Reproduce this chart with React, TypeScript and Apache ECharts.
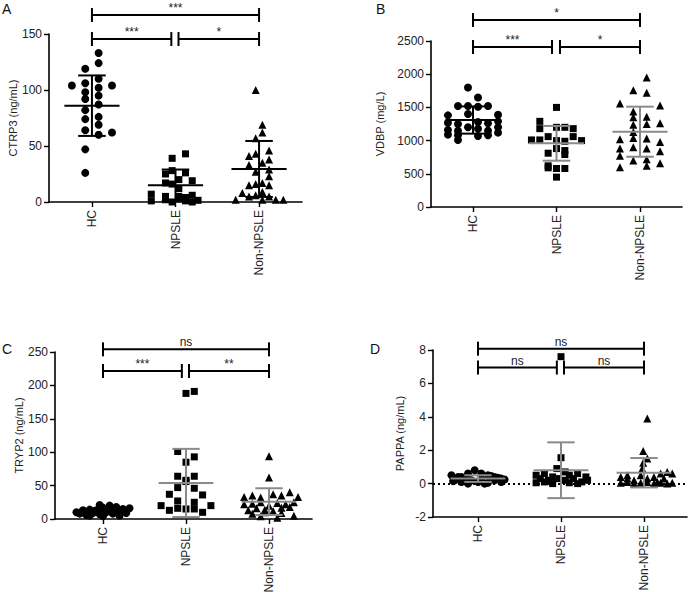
import React, { useEffect, useRef } from 'react';
import * as echarts from 'echarts';

const CATEGORIES = ['HC', 'NPSLE', 'Non-NPSLE'];

// Each point: [horizontal jitter in category units, value]
const A_HC = [[0.08,133],[0.08,124],[-0.08,119],[-0.24,104],[-0.08,106],[0.08,110],[0.24,104],[-0.08,98],[0.08,102],[-0.08,92],[0.08,95],[0.08,87],[-0.08,82],[-0.08,74],[0.08,76],[0.08,69],[-0.08,64],[0.24,62],[0.08,60],[-0.08,47],[-0.08,26]];
const A_NPSLE = [[-0.04,39],[0.12,43],[-0.12,25],[0.12,26],[-0.04,28],[-0.12,17],[0.04,20],[0.2,19],[-0.04,16],[0.04,12],[-0.29,7],[-0.12,5],[0.04,5],[0.12,4],[-0.29,1],[-0.12,2],[-0.04,0],[0.04,3],[0.12,1],[0.2,0],[0.27,1.5],[0.2,6]];
const A_NON = [[-0.04,100],[0.04,69],[0.04,62],[-0.04,57],[-0.12,41],[-0.04,43],[0.12,46],[0.12,38],[-0.12,33],[0.04,35],[0.12,29],[-0.04,27],[0.12,23],[-0.12,15],[-0.04,16],[0.04,17],[0.12,15],[-0.2,8],[-0.12,5],[-0.04,6],[0.04,9],[-0.28,2],[0.04,2],[0.2,2],[0.29,2],[0.12,5]];
const A_MEAN = [86, 15, 29.5];
const A_SD = [27, 14, 25];
const A_BRACKETS = [[0, 2, 167, '***'], [0, 0.95, 145.5, '***'], [1.036, 2, 145.5, '*']];

const B_HC = [[-0.06,1800],[0.06,1650],[-0.18,1520],[-0.06,1520],[0.06,1510],[0.18,1520],[-0.3,1380],[-0.06,1400],[0.3,1390],[-0.3,1270],[-0.18,1250],[0.06,1280],[0.18,1260],[0.3,1290],[-0.3,1160],[-0.18,1150],[0.06,1180],[0.18,1150],[0.3,1120],[-0.3,1090],[-0.18,1080],[0.06,1070],[0.18,1080],[-0.18,1010],[-0.06,1200],[0.3,1200]];
const B_NPSLE = [[0,1500],[-0.2,1290],[-0.2,1180],[0,1200],[0.1,1200],[0.2,1180],[-0.1,1060],[0.2,1060],[-0.3,1010],[-0.2,1010],[0,1000],[0.1,990],[0.3,1000],[-0.1,810],[0.1,850],[0,880],[-0.1,620],[0.1,790],[0,580],[0.1,580],[-0.1,590],[0,450]];
const B_NON = [[0.08,1950],[-0.08,1760],[0.08,1720],[-0.24,1560],[-0.08,1440],[0.24,1530],[-0.08,1350],[0.08,1360],[-0.08,1240],[0.08,1250],[0.24,1260],[-0.24,1020],[-0.08,1040],[0.08,1030],[0.24,980],[-0.24,880],[-0.08,900],[0.08,880],[0.24,840],[-0.24,770],[-0.08,700],[0.08,720],[0.24,660],[-0.24,600],[0.08,620],[-0.08,1130]];
const B_MEAN = [1310, 959, 1134];
const B_SD = [205, 262, 377];
const B_BRACKETS = [[0, 2, 2816, '*'], [0, 0.946, 2410, '***'], [1.042, 2, 2410, '*']];

const C_HC = [[-0.32,10],[-0.24,12],[-0.16,14],[-0.08,13],[0,17],[0.08,19],[0.16,18],[0.24,15],[0.32,16],[-0.28,8],[-0.2,6],[-0.12,9],[-0.04,7],[0.04,10],[0.12,8],[0.2,11],[0.28,9],[-0.16,5],[0,4],[0.08,20],[-0.04,21],[0.12,14],[0.2,5],[-0.24,13]];
const C_NPSLE = [[0,188],[0.1,191],[-0.1,101],[0,85],[0.1,93],[-0.1,64],[0.1,64],[0,56],[-0.1,47],[0.1,46],[-0.2,37],[0.2,36],[-0.1,27],[0.1,25],[-0.3,20],[0.3,20],[-0.2,13],[-0.1,16],[0,15],[0.1,15],[0.2,10],[0,58]];
const C_NON = [[0,94],[0,62],[-0.3,33],[-0.2,35],[-0.1,32],[0.05,37],[0.15,35],[0.25,40],[0.35,33],[-0.3,22],[-0.2,23],[-0.1,25],[0,20],[0.1,24],[0.2,22],[0.3,25],[-0.25,13],[-0.15,16],[-0.05,14],[0.05,12],[0.15,17],[0.25,18],[-0.2,8],[-0.05,10],[0.15,9],[0.3,5],[0.1,2],[-0.1,4]];
const C_MEAN = [12, 54, 26];
const C_SD = [4, 51, 20];
const C_BRACKETS = [[0, 2, 254, 'ns'], [0, 0.95, 221.6, '***'], [1.036, 2, 221.6, '**']];

const D_HC = [[-0.32,0.5],[-0.24,0.4],[-0.16,0.3],[-0.08,0.2],[0,0.1],[0.08,0],[-0.04,0.8],[0.04,0.6],[0.12,0.5],[0.2,0.4],[0.28,0.3],[-0.28,0.2],[-0.2,0.1],[-0.12,0],[0.16,0.45],[0.24,0.35],[0.32,0.25],[-0.3,0.15],[0.12,0.05],[-0.12,0.6],[0.04,0.3],[0.2,0.2],[0.28,0.1],[-0.2,0.4]];
const D_NPSLE = [[0,7.6],[0,1.55],[-0.05,0.9],[-0.3,0.5],[-0.2,0.6],[-0.1,0.4],[0.1,0.5],[0.2,0.6],[0.3,0.4],[-0.25,0.3],[-0.15,0.2],[-0.05,0.3],[0.05,0.2],[0.15,0.3],[0.25,0.1],[0.32,0.2],[-0.3,0.05],[-0.1,0],[0.1,0.05],[0.2,0],[-0.2,0.1],[0.05,0.7]];
const D_NON = [[0.04,3.9],[-0.01,1.95],[0.04,1.5],[-0.01,1.25],[-0.02,0.9],[-0.28,0.4],[-0.2,0.3],[-0.12,0.2],[-0.04,0.5],[0.04,0.3],[0.12,0.4],[0.2,0.6],[0.28,0.7],[0.34,0.6],[-0.28,0.05],[-0.2,0.1],[-0.12,0],[-0.04,0.05],[0.04,0.1],[0.12,0],[0.2,0.05],[0.28,0],[0.34,0.05],[-0.2,0.5],[0.16,0.1],[0.24,0.3]];
const D_MEAN = [0.3, 0.8, 0.65];
const D_SD = [0.2, 1.67, 0.88];
const D_BRACKETS = [[0, 2, 8.08, 'ns'], [0, 0.95, 6.95, 'ns'], [1.036, 2, 6.95, 'ns']];

const FONT = 'Liberation Sans, Arial, Helvetica, sans-serif';
const BLACK = '#000';
const GRAY = '#8a8a8a';
const TEXT = '#222';
const SYMBOLS = ['circle', 'rect', 'triangle'];
const SYMBOL_SIZES = [8, 7, 8];

const PANELS = [
  { letter: 'A', lx: 2, ly: 2, grid: { left: 49, top: 34, width: 253, height: 168 }, xMin: -0.514, xMax: 2.514,
    yMin: 0, yMax: 150, yInt: 50, yName: 'CTRP3 (ng/mL)', nameGap: 31,
    groups: [A_HC, A_NPSLE, A_NON], mean: A_MEAN, sd: A_SD, errColors: [BLACK, BLACK, BLACK], brackets: A_BRACKETS, zero: false },
  { letter: 'B', lx: 376, ly: 2, grid: { left: 431, top: 41, width: 251, height: 166 }, xMin: -0.503, xMax: 2.503,
    yMin: 0, yMax: 2500, yInt: 500, yName: 'VDBP (mg/L)', nameGap: 46,
    groups: [B_HC, B_NPSLE, B_NON], mean: B_MEAN, sd: B_SD, errColors: [BLACK, GRAY, GRAY], brackets: B_BRACKETS, zero: false },
  { letter: 'C', lx: 2, ly: 342, grid: { left: 55, top: 352, width: 257, height: 167 }, xMin: -0.578, xMax: 2.518,
    yMin: 0, yMax: 250, yInt: 50, yName: 'TRYP2 (ng/mL)', nameGap: 29,
    groups: [C_HC, C_NPSLE, C_NON], mean: C_MEAN, sd: C_SD, errColors: [BLACK, GRAY, GRAY], brackets: C_BRACKETS, zero: false },
  { letter: 'D', lx: 370, ly: 342, grid: { left: 433, top: 350, width: 254, height: 167 }, xMin: -0.542, xMax: 2.518,
    yMin: -2, yMax: 8, yInt: 2, yName: 'PAPPA (ng/mL)', nameGap: 28,
    groups: [D_HC, D_NPSLE, D_NON], mean: D_MEAN, sd: D_SD, errColors: [GRAY, GRAY, GRAY], brackets: D_BRACKETS, zero: true },
];

function buildOption() {
  const grid: any[] = [];
  const xAxis: any[] = [];
  const yAxis: any[] = [];
  const series: any[] = [];
  const graphic: any[] = [];

  PANELS.forEach((p, pi) => {
    grid.push({ ...p.grid, containLabel: false, outerBoundsMode: 'none' });
    xAxis.push({
      type: 'value', gridIndex: pi, min: p.xMin, max: p.xMax,
      axisLine: { show: true, onZero: false, lineStyle: { color: BLACK, width: 1.6 } },
      axisTick: { show: true, customValues: [0, 1, 2], length: 5, lineStyle: { color: BLACK, width: 1.4 } },
      axisLabel: { show: true, customValues: [0, 1, 2], rotate: 90, margin: 8, color: TEXT, fontSize: 12, fontFamily: FONT,
        formatter: (v: number) => CATEGORIES[Math.round(v)] },
      splitLine: { show: false },
    });
    yAxis.push({
      type: 'value', gridIndex: pi, min: p.yMin, max: p.yMax, interval: p.yInt,
      name: p.yName, nameLocation: 'middle', nameGap: p.nameGap,
      nameTextStyle: { color: TEXT, fontSize: 11, fontFamily: FONT },
      axisLine: { show: true, onZero: false, lineStyle: { color: BLACK, width: 1.6 } },
      axisTick: { show: true, length: 5, lineStyle: { color: BLACK, width: 1.4 } },
      axisLabel: { color: TEXT, fontSize: 12, fontFamily: FONT, margin: 7, formatter: (v: number) => String(v) },
      splitLine: { show: false },
    });

    p.groups.forEach((pts, gi) => {
      const s: any = {
        type: 'scatter', xAxisIndex: pi, yAxisIndex: pi,
        symbol: SYMBOLS[gi], symbolSize: SYMBOL_SIZES[gi],
        itemStyle: { color: BLACK, opacity: 1 },
        data: pts.map(([dx, v]) => [gi + dx, v]),
        z: 2,
      };
      if (p.zero && gi === 0) {
        s.markLine = {
          silent: true, symbol: 'none', label: { show: false },
          lineStyle: { type: [2, 3], color: BLACK, width: 2 },
          data: [{ yAxis: 0 }],
        };
      }
      series.push(s);
    });

    const errColors = p.errColors;
    series.push({
      type: 'custom', xAxisIndex: pi, yAxisIndex: pi, z: 5, clip: false,
      data: p.mean.map((m, i) => [i, m, p.sd[i]]),
      encode: { x: 0, y: 1 },
      renderItem: (params: any, api: any) => {
        const x = api.value(0), m = api.value(1), s = api.value(2);
        const c = (a: number, b: number) => api.coord([a, b]);
        const style = { stroke: errColors[params.dataIndex], lineWidth: 2 };
        const t = c(x, m + s), b = c(x, m - s);
        const ml = c(x - 0.33, m), mr = c(x + 0.33, m);
        const tl = c(x - 0.165, m + s), tr = c(x + 0.165, m + s);
        const bl = c(x - 0.165, m - s), br = c(x + 0.165, m - s);
        const ln = (p1: number[], p2: number[]) => ({ type: 'line', shape: { x1: p1[0], y1: p1[1], x2: p2[0], y2: p2[1] }, style });
        return { type: 'group', children: [ln(t, b), ln(ml, mr), ln(tl, tr), ln(bl, br)] };
      },
    });

    const brackets = p.brackets;
    series.push({
      type: 'custom', xAxisIndex: pi, yAxisIndex: pi, z: 6, clip: false,
      data: brackets.map((bk) => [bk[0], bk[1], bk[2]]),
      encode: { x: [0, 1], y: 2 },
      renderItem: (params: any, api: any) => {
        const a = api.coord([api.value(0), api.value(2)]);
        const b = api.coord([api.value(1), api.value(2)]);
        const style = { stroke: BLACK, lineWidth: 2 };
        const label = brackets[params.dataIndex][3] as string;
        return {
          type: 'group',
          children: [
            { type: 'line', shape: { x1: a[0], y1: a[1], x2: b[0], y2: b[1] }, style },
            { type: 'line', shape: { x1: a[0], y1: a[1] - 7, x2: a[0], y2: a[1] + 7 }, style },
            { type: 'line', shape: { x1: b[0], y1: b[1] - 7, x2: b[0], y2: b[1] + 7 }, style },
            { type: 'text', x: (a[0] + b[0]) / 2, y: a[1] - 1,
              style: { text: label, fill: TEXT, stroke: 'none', lineWidth: 0, fontSize: 12, fontFamily: FONT, align: 'center', verticalAlign: 'bottom' } },
          ],
        };
      },
    });

    graphic.push({
      type: 'text', left: p.lx, top: p.ly,
      style: { text: p.letter, fill: '#111', fontSize: 14, fontFamily: FONT },
    });
  });

  return { animation: false, backgroundColor: '#fff', grid, xAxis, yAxis, series, graphic };
}

export default function App() {
  const ref = useRef<HTMLDivElement>(null);
  useEffect(() => {
    if (!ref.current) return;
    const chart = echarts.init(ref.current, undefined, { renderer: 'svg' });
    chart.setOption(buildOption() as any);
    return () => chart.dispose();
  }, []);
  return <div ref={ref} style={{ position: 'absolute', left: 0, top: 0, width: 688, height: 592 }} />;
}
